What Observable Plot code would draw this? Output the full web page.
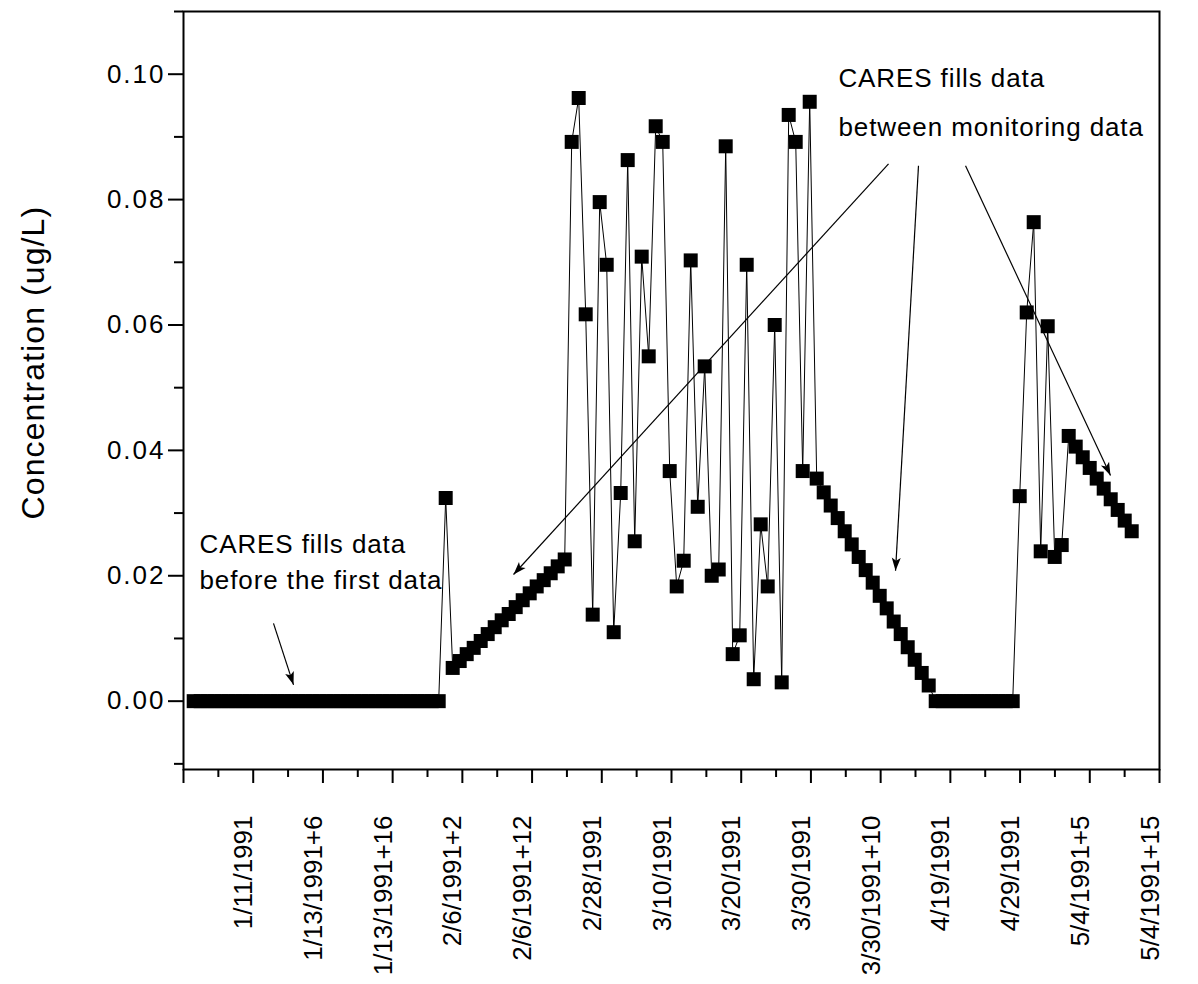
<!DOCTYPE html>
<html><head><meta charset="utf-8">
<script src="https://cdn.jsdelivr.net/npm/d3@7"></script>
<script src="https://cdn.jsdelivr.net/npm/@observablehq/plot@0.6"></script>
<style>
body{margin:0;background:#fff}
#chart svg{font-family:"Liberation Sans",Arial,sans-serif;}
#chart svg g[aria-label="y-axis tick label"] text{letter-spacing:2px;}
</style>
</head><body><div id="chart"></div>
<script>
// Concentration (ug/L) per data row (rows 1..135)
const concentration = [
  0,0,0,0,0,0,0,0,0,0,0,0,0,0,0,0,0,0,0,0,0,0,0,0,0,0,0,0,0,0,0,0,0,0,0,0,
  0.0324,
  0.0053,0.0064,0.0075,0.0085,0.0096,0.0107,0.0118,0.0129,0.0139,0.0150,0.0161,0.0172,0.0183,0.0193,0.0204,0.0215,0.0226,
  0.0892,0.0962,0.0617,0.0138,0.0796,0.0696,0.0110,0.0332,0.0863,0.0255,0.0709,0.0550,0.0917,0.0892,0.0367,0.0183,0.0224,0.0703,0.0310,0.0534,0.0200,0.0210,0.0885,0.0075,0.0105,0.0696,0.0035,0.0282,0.0183,0.0600,0.0030,0.0935,0.0892,0.0367,0.0956,0.0355,0.0333,
  0.0312,0.0292,0.0271,0.0250,0.0230,0.0209,0.0189,0.0168,0.0148,0.0127,0.0107,0.0086,0.0066,0.0045,0.0025,
  0,0,0,0,0,0,0,0,0,0,0,0,
  0.0327,0.0620,0.0764,0.0239,0.0598,0.0230,0.0249,
  0.0423,0.0406,0.0389,0.0372,0.0355,0.0339,0.0322,0.0305,0.0288,0.0271
];
const rows = d3.range(1, concentration.length + 1);

const xTickLabels = ["", "1/11/1991", "1/13/1991+6", "1/13/1991+16", "2/6/1991+2", "2/6/1991+12",
  "2/28/1991", "3/10/1991", "3/20/1991", "3/30/1991", "3/30/1991+10", "4/19/1991", "4/29/1991",
  "5/4/1991+5", "5/4/1991+15"];
const yMajorTicks = [0, 0.02, 0.04, 0.06, 0.08, 0.10];
const yMinorTicks = [-0.01, 0.01, 0.03, 0.05, 0.07, 0.09, 0.11];
const yTitle = "Concentration (ug/L)";

// annotations
const noteLines = ["CARES fills data", "before the first data", "CARES fills data", "between monitoring data"];
const noteRow = [1.83, 1.83, 93.1, 93.1];
const noteValue = [0.0237, 0.0179, 0.0979, 0.0901];
const arrowRow1 = [100.26, 104.54, 111.26, 12.4];
const arrowVal1 = [0.0857, 0.0854, 0.0854, 0.0124];
const arrowRow2 = [46.69, 101.26, 131.97, 15.26];
const arrowVal2 = [0.0202, 0.0208, 0.0360, 0.0026];

const X0 = -0.457, X1 = 138.97;
const Y0 = -0.0109, Y1 = 0.11;
const W = 1198, H = 984, ML = 183, MR = 39, MT = 11, MB = 215;
const xMajor = d3.range(15).map(k => X0 + k * (X1 - X0) / 14);
const xMinor = xMajor.slice(0, -1).map((t, k) => (t + xMajor[k + 1]) / 2);

const data = rows.map((r, i) => ({row: r, value: concentration[i]}));
const notes = noteLines.map((t, i) => ({t, row: noteRow[i], value: noteValue[i]}));
const pxPerRow = (W - ML - MR) / (X1 - X0);
const pxPerVal = (H - MT - MB) / (Y1 - Y0);
const arrows = arrowRow1.map((r, i) => {
  const sdx = (arrowRow2[i] - r) * pxPerRow;
  const sdy = -(arrowVal2[i] - arrowVal1[i]) * pxPerVal;
  const len = Math.hypot(sdx, sdy);
  const ux = sdx / len, uy = sdy / len;
  return {x1: r, y1: arrowVal1[i], x2: arrowRow2[i], y2: arrowVal2[i],
          angle: Math.atan2(ux, -uy) * 180 / Math.PI};
});
// narrow filled arrowhead, tip at origin pointing up
const headSymbol = {draw(ctx) { ctx.moveTo(0, 0); ctx.lineTo(4.5, 13); ctx.lineTo(0, 10); ctx.lineTo(-4.5, 13); ctx.closePath(); }};

const chart = Plot.plot({
  width: W, height: H,
  marginLeft: ML, marginRight: MR, marginTop: MT, marginBottom: MB,
  style: {background: "white", color: "black", fontFamily: "'Liberation Sans', Arial, sans-serif"},
  x: {domain: [X0, X1], axis: null},
  y: {domain: [Y0, Y1], axis: null},
  marks: [
    Plot.line(data, {x: "row", y: "value", stroke: "black", strokeWidth: 1}),
    Plot.dot(data, {x: "row", y: "value", symbol: "square", r: 7.9, fill: "black"}),
    Plot.axisY({ticks: yMajorTicks, tickSize: 15, tickPadding: 3, tickFormat: d3.format(".2f"), fontSize: 26, label: null, strokeWidth: 2}),
    Plot.axisY({ticks: yMinorTicks, tickSize: 9, tickFormat: () => "", label: null, strokeWidth: 2}),
    Plot.axisX({ticks: xMajor, tickSize: 14, tickFormat: () => "", label: null, strokeWidth: 2}),
    Plot.axisX({ticks: xMinor, tickSize: 8, tickFormat: () => "", label: null, strokeWidth: 2}),
    Plot.text(xMajor, {x: d => d, frameAnchor: "bottom", text: (d, i) => xTickLabels[i], rotate: -90, textAnchor: "end", dy: 46, dx: -1, fontSize: 26}),
    Plot.text([yTitle], {x: X0, y: 0.054, dx: -150, rotate: -90, fontSize: 32}),
    Plot.frame({stroke: "black", strokeWidth: 2}),
    Plot.text(notes, {x: "row", y: "value", text: "t", textAnchor: "start", lineAnchor: "bottom", fontSize: 26}),
    Plot.link(arrows, {x1: "x1", y1: "y1", x2: "x2", y2: "y2", stroke: "black", strokeWidth: 1.2}),
    Plot.dot(arrows, {x: "x2", y: "y2", symbol: headSymbol, rotate: "angle", fill: "black", stroke: "none"})
  ]
});
// widen letter spacing of annotation and title text to match the original rendering
d3.select(chart).selectAll("text").each(function() {
  const t = this.textContent;
  if (noteLines.includes(t)) this.style.letterSpacing = "0.9px";
  else if (t === yTitle) this.style.letterSpacing = "1.1px";
});
document.getElementById("chart").appendChild(chart);
</script>
</body></html>
